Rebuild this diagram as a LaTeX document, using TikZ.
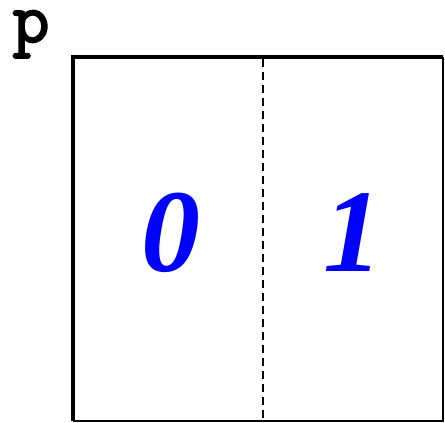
\documentclass[tikz,border=0pt]{standalone}
\usepackage{fontspec}
\newfontfamily\numfont{Liberation Serif}
\newfontfamily\pfont[FakeBold=2.5]{Latin Modern Mono}
\begin{document}
\begin{tikzpicture}[x=1pt,y=-1pt,
  thickedge/.style={line width=4pt},
  thinedge/.style={line width=2pt},
  divider/.style={line width=2pt,dash pattern=on 8pt off 5pt},
  digit/.style={text=blue,font=\numfont\bfseries\itshape\fontsize{118}{118}\selectfont,inner sep=0pt}]
\useasboundingbox (0,0) rectangle (445,423);
\coordinate (tl) at (73,57);
\coordinate (tr) at (443,57);
\coordinate (bl) at (73,421);
\coordinate (br) at (443,421);
\coordinate (dt) at (263,59);
\coordinate (db) at (263,421);
\draw[thinedge] (tr) -- (br) -- (bl);
\draw[thickedge] (bl) -- (tl) -- (tr);
\draw[divider] (dt) -- (db);
\node[digit] (zero) at (171,233) {0};
\node[digit] (one) at (353,233) {1};
\node[font=\pfont\fontsize{72}{72}\selectfont,inner sep=0pt,anchor=base] (p) at (31,42) {p};
\end{tikzpicture}
\end{document}
